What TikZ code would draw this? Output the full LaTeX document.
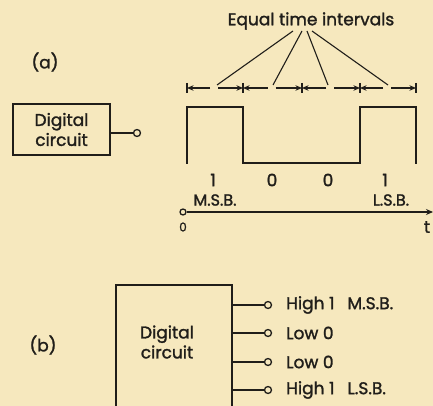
\documentclass[tikz,border=0pt]{standalone}
\usepackage{fontspec}
\setmainfont{Poppins}[RawFeature={embolden=1.5}]
\usetikzlibrary{arrows.meta}
\definecolor{paper}{RGB}{246,232,190}
\definecolor{ink}{RGB}{32,30,26}
\begin{document}
\begin{tikzpicture}[x=1pt,y=-1pt, line join=miter,
  lbl/.style={font=\fontsize{17}{20}\selectfont, inner sep=0pt, text=ink},
  sml/.style={font=\fontsize{16}{19}\selectfont, inner sep=0pt, text=ink},
  term/.style={circle, draw=ink, fill=paper, minimum size=7pt, inner sep=0pt, line width=1.3pt},
  wire/.style={draw=ink, line width=1.7pt},
  thin/.style={draw=ink, line width=1.1pt},
  dimarrow/.style={draw=ink, line width=1.1pt, -{Stealth[length=6.5pt,width=5.5pt]}},
  boxa/.style={draw=ink, line width=1.6pt, inner sep=0pt},
]
\fill[paper] (0,0) rectangle (433,406);
\useasboundingbox (0,0) rectangle (433,406);

% ---------- (a) ----------
\node[lbl] (la) at (45,62) {(a)};
\node[boxa, minimum width=97pt, minimum height=51pt] (dca) at (61.5,129.5) {};
\node[lbl, align=center] (dcat) at (dca.center) {Digital\\circuit};
\node[term] (ta) at (137,133) {};
\draw[wire] (dca.east |- ta) -- (ta.west);

% waveform
\draw[wire] (187,164) -- (187,107) -- (243,107) -- (243,163) -- (360,163) -- (360,107) -- (416,107) -- (416,164);

% dimension ticks and arrows
\foreach \x in {187,243,302,360,416} \draw[thin] (\x,83) -- (\x,93);
\foreach \a/\b in {187/243,243/302,302/360,360/416}{
  \pgfmathsetmacro{\c}{(\a+\b)/2}
  \draw[dimarrow] (\c-5,88) -- (\a,88);
  \draw[dimarrow] (\c+3,88) -- (\b,88);
}

% title and leaders
\node[lbl] (eti) at (311,21) {Equal time intervals};
\coordinate (e1) at (217,85);
\coordinate (e2) at (273,85);
\coordinate (e3) at (328,85);
\coordinate (e4) at (388,85);
\draw[thin] (293,31) -- (e1);
\draw[thin] (302,31) -- (e2);
\draw[thin] (307,31) -- (e3);
\draw[thin] (312,31) -- (e4);

% bit labels
\node[lbl] (b1) at (213,180) {1};
\node[lbl] (b2) at (272,180) {0};
\node[lbl] (b3) at (328,180) {0};
\node[lbl] (b4) at (385,180) {1};
\node[sml] (msb) at (215,200) {M.S.B.};
\node[sml] (lsb) at (391,200) {L.S.B.};

% time axis
\node[term, minimum size=6pt] (o) at (183,212) {};
\coordinate (tend) at (433,212);
\draw[wire, line width=1.5pt, -{Stealth[length=7pt,width=6pt]}] (o.east) -- (tend);
\node[sml, font=\fontsize{12}{14}\selectfont] (zero) at (183,227) {0};
\node[lbl] (tt) at (427,227) {t};

% ---------- (b) ----------
\node[lbl] (lbb) at (43,345) {(b)};
\node[boxa, minimum width=116pt, minimum height=150pt] (dcb) at (174,360) {};
\node[lbl, align=center] (dcbt) at (167,342) {Digital\\circuit};
\foreach \i/\y/\t in {1/305/{High 1\hspace{13pt}M.S.B.},2/333/{Low 0},3/362/{Low 0},4/390/{High 1\hspace{13pt}L.S.B.}}{
  \node[term] (o\i) at (268,\y) {};
  \draw[wire] (dcb.east |- o\i) -- (o\i.west);
  \node[lbl, anchor=west] (ol\i) at (286,\y) {\t};
}
\end{tikzpicture}
\end{document}
